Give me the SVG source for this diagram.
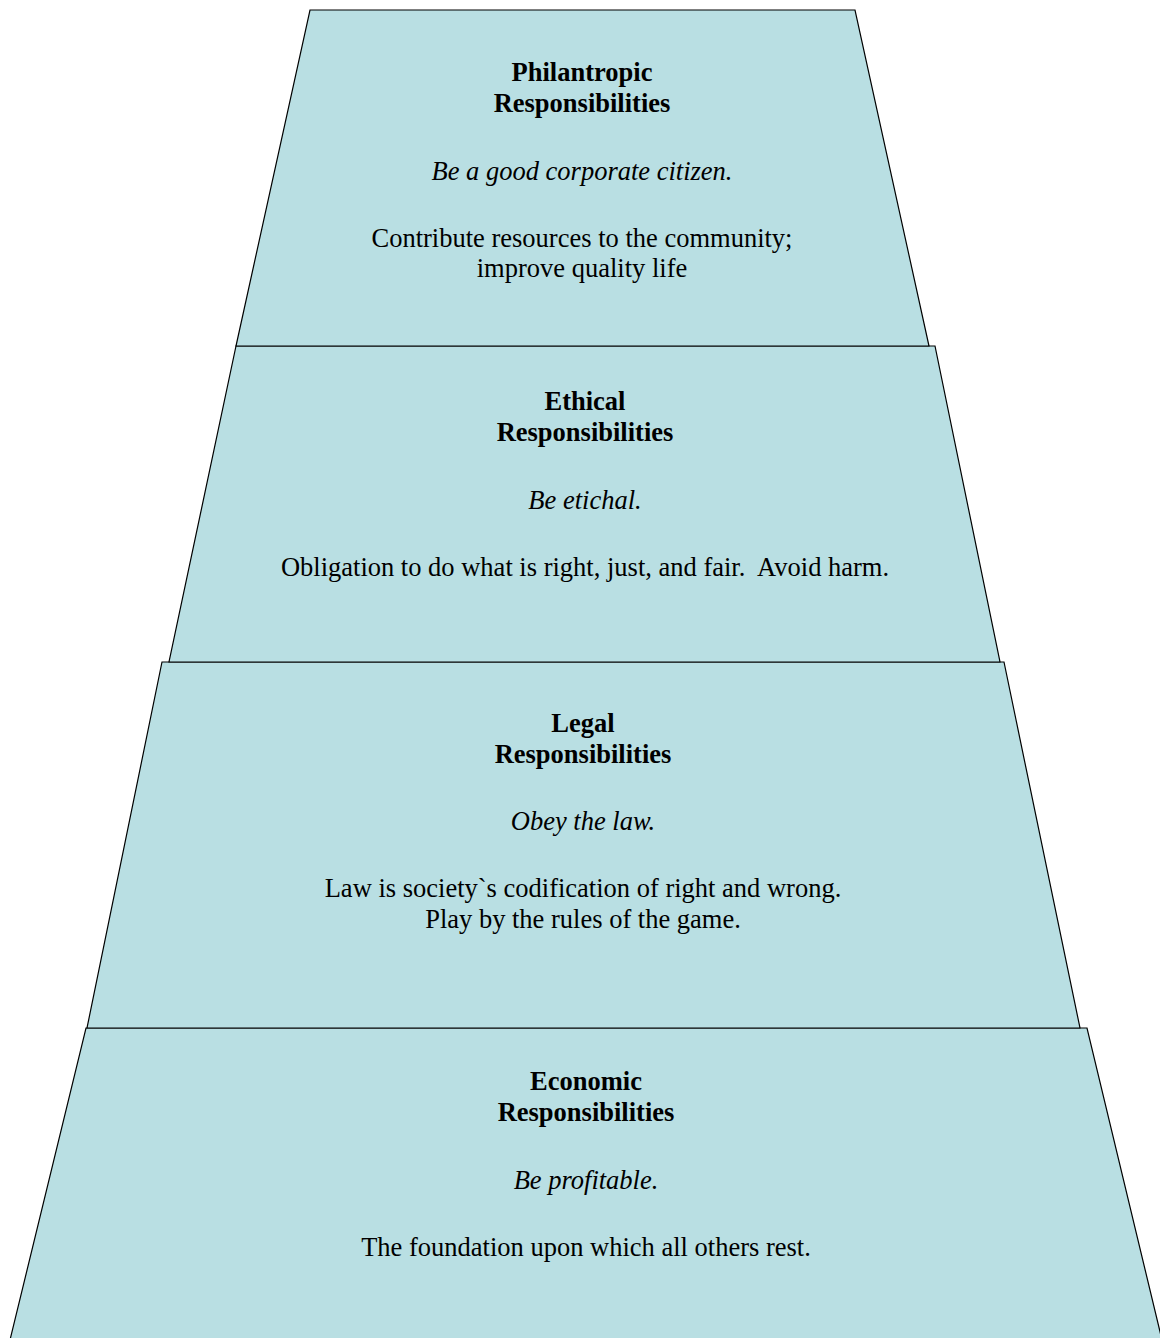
<svg xmlns="http://www.w3.org/2000/svg" width="1160" height="1338" viewBox="0 0 1160 1338">
<style>
.tier{fill:#b9dfe3;stroke:#000;stroke-width:1.2}
text{font-size:26.5px;text-anchor:middle;fill:#000}
.b{font-weight:bold}
.i{font-style:italic}
</style>
<rect width="1160" height="1338" fill="#fff"/>
<g font-family="'Liberation Serif', 'Times New Roman', serif">
<g id="economic">
<polygon class="tier" points="86,1028 1087,1028 1162,1340 10,1340"/>
<text class="b" x="586" y="1090">Economic</text>
<text class="b" x="586" y="1121">Responsibilities</text>
<text class="i" x="586" y="1189">Be profitable.</text>
<text x="586" y="1256">The foundation upon which all others rest.</text>
</g>
<g id="legal">
<polygon class="tier" points="162,662 1004,662 1080,1028 87,1028"/>
<text class="b" x="583" y="732">Legal</text>
<text class="b" x="583" y="763">Responsibilities</text>
<text class="i" x="583" y="830">Obey the law.</text>
<text x="583" y="897">Law is society`s codification of right and wrong.</text>
<text x="583" y="928">Play by the rules of the game.</text>
</g>
<g id="ethical">
<polygon class="tier" points="236,346 935,346 1000,662 169,662"/>
<text class="b" x="585" y="410">Ethical</text>
<text class="b" x="585" y="441">Responsibilities</text>
<text class="i" x="585" y="509">Be etichal.</text>
<text x="585" y="576" xml:space="preserve">Obligation to do what is right, just, and fair.  Avoid harm.</text>
</g>
<g id="philantropic">
<polygon class="tier" points="310,10 855,10 929,346 236,346"/>
<text class="b" x="582" y="81">Philantropic</text>
<text class="b" x="582" y="112">Responsibilities</text>
<text class="i" x="582" y="180">Be a good corporate citizen.</text>
<text x="582" y="247">Contribute resources to the community;</text>
<text x="582" y="277">improve quality life</text>
</g>
</g>
<g id="connectors"></g>
</svg>
